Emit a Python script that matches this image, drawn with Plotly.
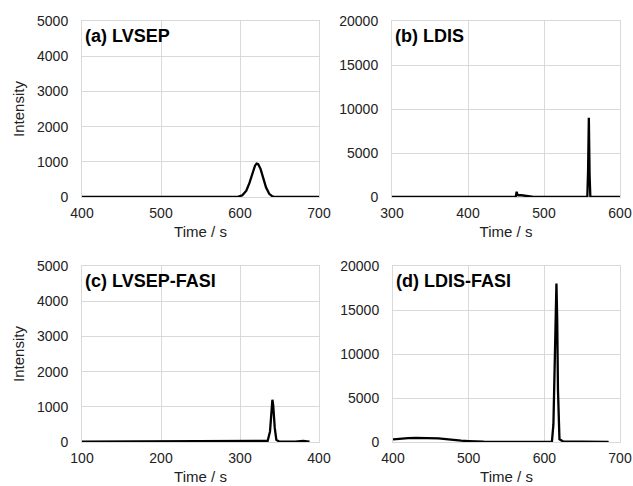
import plotly.graph_objects as go

# Electropherograms for the four preconcentration methods
a_time = [400, 590, 598, 603, 608, 612, 616, 619, 621, 623, 626, 629, 633, 637, 641, 645, 700]
a_int = [0, 0, 10, 50, 180, 400, 700, 890, 950, 930, 800, 560, 270, 90, 20, 0, 0]

b_time = [300, 462, 463, 464, 465, 466, 470, 478, 484, 486, 556, 557, 558, 559, 560, 561, 562, 600]
b_int = [0, 0, 100, 600, 300, 200, 200, 150, 30, 0, 0, 0, 3000, 9000, 2500, 0, 0, 0]

c_time = [100, 150, 200, 250, 300, 330, 335, 338, 340, 341, 342, 344, 346, 350, 370, 375, 380, 385, 388]
c_int = [10, 10, 10, 10, 10, 10, 30, 300, 900, 1200, 1050, 400, 60, 10, 10, 30, 30, 20, 10]

d_time = [400, 410, 420, 430, 440, 450, 460, 470, 480, 490, 500, 510, 520, 560, 600, 610,
          612, 614, 615, 616, 617, 618, 620, 625, 650, 685]
d_int = [300, 400, 450, 470, 470, 460, 420, 330, 220, 150, 100, 60, 30, 10, 10, 10,
         2000, 10000, 16000, 18000, 14000, 6000, 300, 50, 30, 20]

panel_titles = ["(a) LVSEP", "(b) LDIS", "(c) LVSEP-FASI", "(d) LDIS-FASI"]
x_ranges = [[400, 700], [300, 600], [100, 400], [400, 700]]
y_ranges = [[0, 5000], [0, 20000], [0, 5000], [0, 20000]]
x_dtick = 100
y_dticks = [1000, 5000, 1000, 5000]

W, H = 633, 486
# plot-area boxes in pixels: (left, right, top, bottom)
boxes = [(82, 319, 21, 197), (392, 620, 21, 197), (82, 319, 266, 442), (393, 620, 266, 442)]

series = [(a_time, a_int), (b_time, b_int), (c_time, c_int), (d_time, d_int)]

fig = go.Figure()
font_family = "Liberation Sans, Arial, sans-serif"
grid = "#d9d9d9"
text_col = "#222"

for i, ((xs, ys), (l, r, t, b)) in enumerate(zip(series, boxes)):
    n = "" if i == 0 else str(i + 1)
    fig.add_trace(go.Scatter(x=xs, y=ys, mode="lines",
                             line=dict(color="black", width=2.3),
                             xaxis="x" + n, yaxis="y" + n, showlegend=False))
    xa = dict(domain=[l / W, r / W], range=x_ranges[i], dtick=x_dtick,
              showgrid=True, gridcolor=grid, gridwidth=1, zeroline=False,
              showline=True, linecolor=grid, mirror=True, automargin=False,
              ticks="", ticklabelstandoff=3, tickformat="d",
              ticklabeloverflow="allow",
              tickfont=dict(family=font_family, size=14, color=text_col),
              title=dict(text="Time / s", standoff=6,
                         font=dict(family=font_family, size=15, color=text_col)),
              anchor="y" + n, fixedrange=True)
    ya = dict(domain=[1 - b / H, 1 - t / H], range=y_ranges[i], dtick=y_dticks[i],
              showgrid=True, gridcolor=grid, gridwidth=1, zeroline=False,
              showline=True, linecolor=grid, mirror=True, automargin=False,
              ticks="", ticklabelstandoff=10, tickformat="d",
              ticklabeloverflow="allow",
              tickfont=dict(family=font_family, size=14, color=text_col),
              anchor="x" + n, fixedrange=True)
    if i in (0, 2):
        ya["title"] = dict(text="Intensity", standoff=8,
                           font=dict(family=font_family, size=15, color=text_col))
    fig.update_layout(**{"xaxis" + n: xa, "yaxis" + n: ya})
    fig.add_annotation(text="<b>" + panel_titles[i] + "</b>",
                       xref="paper", yref="paper",
                       x=(l + 1) / W, y=1 - (t + 3) / H,
                       xanchor="left", yanchor="top", showarrow=False,
                       font=dict(family=font_family, size=18, color="black"))

fig.update_layout(width=W, height=H, margin=dict(l=0, r=0, t=0, b=0),
                  paper_bgcolor="white", plot_bgcolor="white")
fig.write_html("out.html")
